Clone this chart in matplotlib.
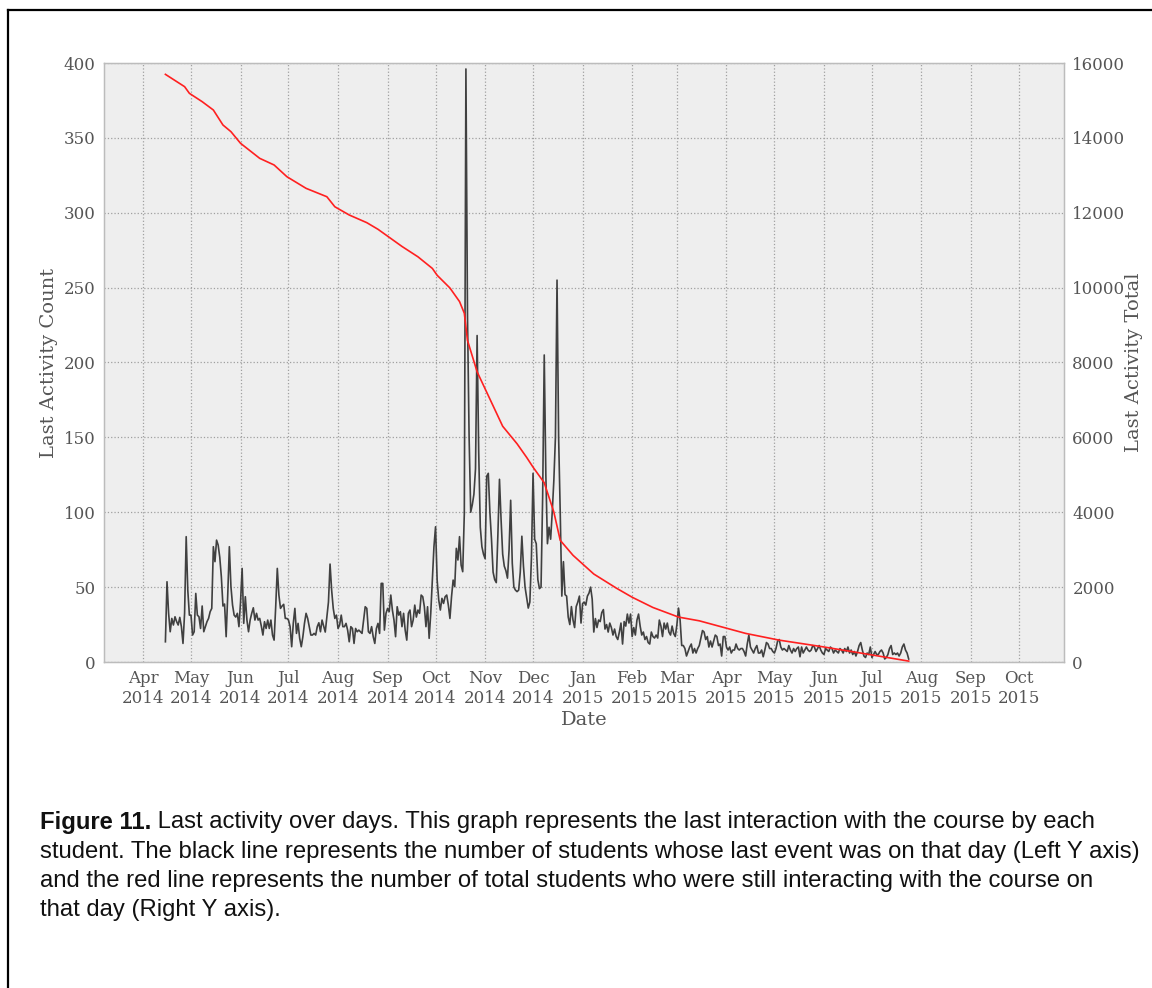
import datetime as dt
import numpy as np
import pandas as pd
import matplotlib
matplotlib.use("Agg")
import matplotlib.pyplot as plt
import matplotlib.dates as mdates
from matplotlib.lines import Line2D

# ---------------- data ----------------
daily_start = "2014-04-15"

# Apr 15 - Aug 8 2014
counts_spring = [13.5, 53.6, 32.5, 20.2, 29.1, 24.7, 30.2, 27, 24.7, 29.8,
                 23.6, 12.4, 32.5, 83.7, 48.0, 31.3, 31.3, 18.0, 20.2, 45.8,
                 31.3, 30.2, 22.4, 37.4, 20.2, 23.6, 26.9, 29.1, 33.6, 35.8,
                 77.0, 67.0, 81.4, 78.1, 70, 56.9, 37.4, 38.7, 16.9, 45,
                 77.0, 50.3, 38.0, 31.3, 30, 32.5, 23.6, 40, 62.5, 25.8,
                 43.6, 28.0, 20.2, 28.0, 32.5, 36.2, 28.0, 32.5, 28.0, 29.1,
                 24, 18.0, 26.9, 22.4, 28.0, 22.4, 28.0, 18.0, 14.6, 36.9,
                 62.5, 44.7, 35.8, 37.4, 38.5, 29.1, 29.1, 28.0, 23.6, 10.2,
                 25.8, 35.8, 19.1, 25.8, 15.8, 10.2, 16.9, 25.8, 32.5, 29.1,
                 23.6, 18.0, 18.0, 19.1, 18.0, 23.6, 26.2, 20.2, 28.0, 24,
                 20, 30, 40, 65.4, 48.0, 35.8, 29.1, 31.3, 22.4, 24.7,
                 31.3, 23.6, 23.6, 25.8, 21.3, 13.5]

# Aug 9 - Oct 19 2014
counts_autumn = [23.6, 22.4, 12.4, 22.4, 20.2, 21.3, 20.2, 19.1, 28, 36.9,
                 35.8, 20.2, 19.1, 23.6, 16.9, 12.4, 22.4, 25.8, 19.1, 52.5,
                 52.5, 21.3, 32.5, 35.8, 33.6, 44.7, 34.7, 28.0, 16.9, 36.9,
                 31.3, 33.6, 23.6, 32.5, 21.3, 14.6, 32.5, 34.7, 23.6, 28.0,
                 38.0, 30, 34.7, 32.5, 44.7, 43.6, 36.9, 23.6, 36.9, 15.8,
                 32.5, 54.7, 77.0, 90.3, 54.7, 41.4, 34.7, 42.5, 39.1, 43.6,
                 44.7, 38.0, 29.1, 43.6, 54.7, 50.3, 75.9, 68.1, 83.7, 64.7,
                 60.3, 99.2]

# Oct 20 - Dec 17 2014
counts_peak = [396, 230, 150, 100, 105, 112, 129, 218, 140, 90,
               77, 72, 69, 124, 126, 100, 82, 60, 55, 53,
               85, 122, 95, 72, 64, 61, 56, 75, 108, 66,
               50, 48, 47, 48, 60, 84, 64, 50, 43, 36,
               40, 70, 126, 82, 79, 55, 49, 50, 110, 205,
               125, 79, 90, 82, 100, 121, 150, 255, 150]

# Dec 18 2014 - Jul 24 2015
counts_tail = [100, 44, 67, 45, 44, 30, 25, 37, 28, 23, 37, 40, 44, 26,
               39, 40, 38, 44, 46, 50, 42, 20, 29, 23, 28, 27, 33, 35, 22, 25,
               20, 26, 23, 18, 22, 17, 15, 20, 26, 12, 27, 24, 32, 26, 32,
               17, 23, 18, 28, 32, 24, 18, 20, 15, 17, 13, 12, 20, 17, 16,
               18, 16, 28, 24, 17, 26, 22, 26, 20, 18, 24, 19, 17,
               25, 36, 28, 11, 11, 9, 4, 7, 10, 12, 6, 9, 6, 9, 11, 16,
               21, 20, 15, 17, 10, 14, 10, 14, 18, 17, 11, 12, 4, 17, 17,
               10, 8, 10, 6, 8, 8, 12, 9, 8, 9, 9, 7, 4, 12, 18, 10, 8, 6,
               9, 11, 6, 6, 8, 3.5, 8, 13, 12, 9, 9, 7,
               6, 9, 14, 15, 10, 8, 9, 8, 7, 11, 8, 6, 9, 7, 9, 10, 3.5, 10,
               6, 8, 10, 8, 7, 8, 11, 10, 7, 9, 11, 8, 6,
               5, 9, 8, 7, 10, 9, 6, 8, 7, 6, 9, 8, 6, 9, 7, 10, 6, 8, 5, 7,
               4, 7, 11, 13, 8, 4, 3, 6, 5, 10,
               3, 5, 7, 5, 5, 7, 8, 6, 2, 3, 5, 9, 11, 5, 6, 5, 6, 4, 6, 10,
               12, 8, 6, 2]

total_dates = ["2014-04-15", "2014-04-27", "2014-04-30", "2014-05-08", "2014-05-15",
               "2014-05-21", "2014-05-26", "2014-06-01", "2014-06-13", "2014-06-22",
               "2014-06-30", "2014-07-12", "2014-07-25", "2014-07-30", "2014-08-08",
               "2014-08-19", "2014-08-26", "2014-09-10", "2014-09-20", "2014-09-29",
               "2014-10-02", "2014-10-10", "2014-10-16", "2014-10-19", "2014-10-21",
               "2014-10-27", "2014-11-04", "2014-11-12", "2014-11-21", "2014-11-27",
               "2014-12-01", "2014-12-08", "2014-12-14", "2014-12-18", "2014-12-26",
               "2015-01-08", "2015-01-22", "2015-02-01", "2015-02-14", "2015-03-02",
               "2015-03-15", "2015-04-13", "2015-05-04", "2015-05-31", "2015-06-25",
               "2015-07-24"]
total_values = [15697, 15368, 15190, 14967, 14744, 14344, 14166, 13855, 13453, 13276,
                12963, 12652, 12428, 12160, 11940, 11735, 11558, 11100, 10823, 10513,
                10330, 9990, 9628, 9316, 8588, 7752, 7025, 6297, 5829, 5465,
                5204, 4788, 4007, 3250, 2850, 2350, 1976, 1730, 1456, 1200,
                1100, 764, 584, 408, 232, 24]

left_ticks = [0, 50, 100, 150, 200, 250, 300, 350, 400]
right_ticks = [0, 2000, 4000, 6000, 8000, 10000, 12000, 14000, 16000]

caption_bold = "Figure 11."
caption_lines = [
    " Last activity over days. This graph represents the last interaction with the course by each",
    "student. The black line represents the number of students whose last event was on that day (Left Y axis)",
    "and the red line represents the number of total students who were still interacting with the course on",
    "that day (Right Y axis).",
]

# ---------------- figure ----------------
W, H = 1152, 988
fig = plt.figure(figsize=(W / 100, H / 100), dpi=100)
fig.patch.set_facecolor("white")

ax_l, ax_r, ax_t, ax_b = 104, 1064, 63, 662
ax = fig.add_axes([ax_l / W, 1 - ax_b / H, (ax_r - ax_l) / W, (ax_b - ax_t) / H])
ax.set_facecolor("#eeeeee")
for s in ax.spines.values():
    s.set_color("#bcbcbc")
    s.set_linewidth(1.0)

counts = counts_spring + counts_autumn + counts_peak + counts_tail
dates = pd.date_range(daily_start, periods=len(counts), freq="D")

gray = "#555555"
serif = "DejaVu Serif"

ax.plot(dates, counts, color="#404040", lw=1.2, zorder=3)
ax.set_ylim(0, 400)
ax.set_yticks(left_ticks)
ax.set_xlim(dt.datetime(2014, 3, 7, 14), dt.datetime(2015, 10, 29, 4))
ax.xaxis.set_major_locator(mdates.MonthLocator())
ax.xaxis.set_major_formatter(mdates.DateFormatter("%b\n%Y"))
ax.grid(True, linestyle=":", color="#a0a0a0", linewidth=0.9)
ax.set_axisbelow(True)
ax.tick_params(length=0, pad=6, labelcolor=gray, labelsize=12)
for lab in ax.get_xticklabels() + ax.get_yticklabels():
    lab.set_family(serif)
ax.set_xlabel("Date", fontsize=14, color=gray, family=serif, labelpad=3)
ax.set_ylabel("Last Activity Count", fontsize=14, color=gray, family=serif, labelpad=4)

ax2 = ax.twinx()
ax2.plot(pd.to_datetime(total_dates), total_values, color="#ff2020", lw=1.2, zorder=4)
ax2.set_ylim(0, 16000)
ax2.set_yticks(right_ticks)
ax2.tick_params(length=0, pad=6, labelcolor=gray, labelsize=12)
for lab in ax2.get_yticklabels():
    lab.set_family(serif)
for s in ax2.spines.values():
    s.set_color("#bcbcbc")
ax2.set_ylabel("Last Activity Total", fontsize=14, color=gray, family=serif, labelpad=0)
ax2.set_xlim(ax.get_xlim())

# frame lines (top and left)
fig.add_artist(Line2D([8 / W, 1.0], [1 - 10 / H, 1 - 10 / H], color="black", lw=1.6,
                      transform=fig.transFigure))
fig.add_artist(Line2D([8 / W, 8 / W], [1 - 10 / H, 0.0], color="black", lw=1.6,
                      transform=fig.transFigure))

# caption
cap_font = "Liberation Sans"
line_y = [822, 852, 881, 910]
x0 = 40
fig.canvas.draw()
renderer = fig.canvas.get_renderer()
probe = fig.text(0, 0, caption_lines[1], fontsize=12, family=cap_font)
wpx = probe.get_window_extent(renderer).width
probe.remove()
fs = 12 * (1143 - x0) / wpx

tb = fig.text(x0 / W, 1 - line_y[0] / H, caption_bold, fontsize=fs, family=cap_font,
              weight="bold", va="center", ha="left", color="#111111")
bb = tb.get_window_extent(renderer)
fig.text(bb.x1 / W, 1 - line_y[0] / H, caption_lines[0], fontsize=fs, family=cap_font,
         va="center", ha="left", color="#111111")
for txt, y in zip(caption_lines[1:], line_y[1:]):
    fig.text(x0 / W, 1 - y / H, txt, fontsize=fs, family=cap_font, va="center",
             ha="left", color="#111111")

fig.savefig("out.png", dpi=100)
